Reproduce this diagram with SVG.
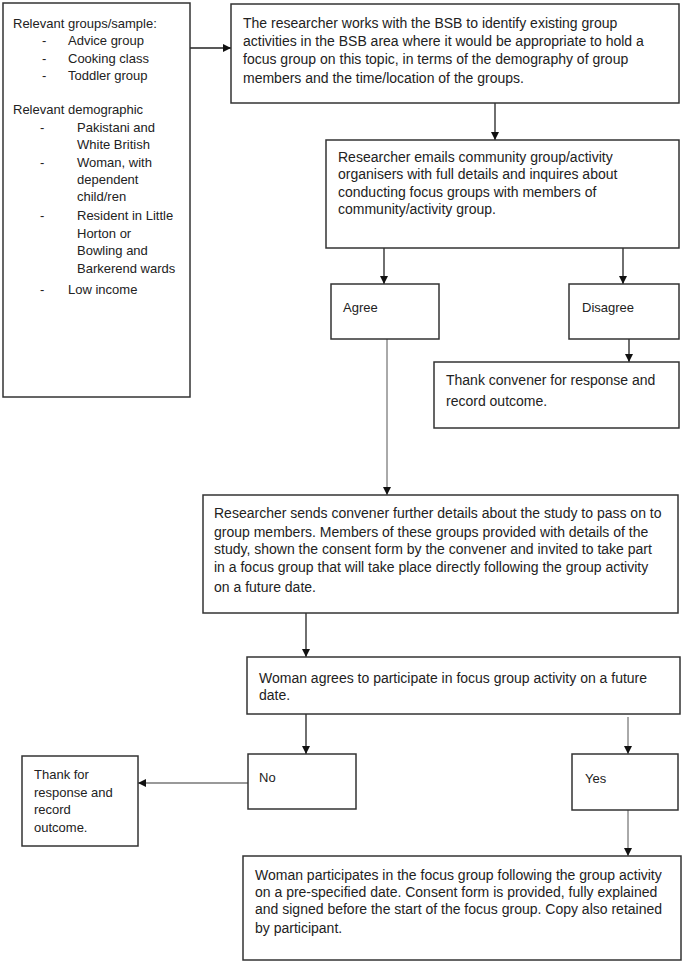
<svg xmlns="http://www.w3.org/2000/svg" width="685" height="969" viewBox="0 0 685 969">
<style>
.box{fill:#fff;stroke:#333;stroke-width:1.5}
text{font-family:"Liberation Sans",Arial,sans-serif;font-size:13px;fill:#222}
.p text{font-size:14px}
.c{stroke:#222;stroke-width:1.3;fill:none;marker-end:url(#ah)}
.thin{stroke:#555;stroke-width:1}
.grey{stroke:#999;stroke-width:2}
</style>
<defs>
<marker id="ah" markerUnits="userSpaceOnUse" markerWidth="8" markerHeight="8" refX="8" refY="4" orient="auto">
<path d="M0,0 L8,4 L0,8 Z" fill="#111"/>
</marker>
</defs>
<rect width="685" height="969" fill="#fff"/>
<g id="connectors">
<line class="c" x1="190" y1="48" x2="231" y2="48"/>
<line class="c" x1="495" y1="103" x2="495" y2="140"/>
<line class="c" x1="384" y1="248" x2="384" y2="284"/>
<line class="c" x1="623" y1="248" x2="623" y2="284"/>
<line class="c" x1="629" y1="339" x2="629" y2="362"/>
<line class="c thin" x1="387" y1="339" x2="387" y2="495"/>
<line class="c" x1="306" y1="613" x2="306" y2="657"/>
<line class="c" x1="306" y1="714" x2="306" y2="754"/>
<line class="c thin" x1="628" y1="717" x2="628" y2="754"/>
<line class="c grey" x1="248" y1="783" x2="138" y2="783"/>
<line class="c thin" x1="628" y1="810" x2="628" y2="856"/>
</g>
<g id="sample">
<rect class="box" x="3" y="3" width="187" height="394"/>
<text x="13" y="28">Relevant groups/sample:</text>
<text x="42" y="45">-</text><text x="68" y="45">Advice group</text>
<text x="42" y="63">-</text><text x="68" y="63">Cooking class</text>
<text x="42" y="80">-</text><text x="68" y="80">Toddler group</text>
<text x="13" y="114">Relevant demographic</text>
<text x="40" y="132">-</text><text x="77" y="132">Pakistani and</text>
<text x="77" y="149">White British</text>
<text x="40" y="167">-</text><text x="77" y="167">Woman, with</text>
<text x="77" y="184">dependent</text>
<text x="77" y="201">child/ren</text>
<text x="40" y="220">-</text><text x="77" y="220">Resident in Little</text>
<text x="77" y="238">Horton or</text>
<text x="77" y="255">Bowling and</text>
<text x="77" y="273">Barkerend wards</text>
<text x="40" y="294">-</text><text x="68" y="294">Low income</text>
</g>
<g id="identify" class="p">
<rect class="box" x="231" y="4" width="448" height="99"/>
<text x="243" y="28">The researcher works with the BSB to identify existing group</text>
<text x="243" y="46">activities in the BSB area where it would be appropriate to hold a</text>
<text x="243" y="64">focus group on this topic, in terms of the demography of group</text>
<text x="243" y="83">members and the time/location of the groups.</text>
</g>
<g id="emails" class="p">
<rect class="box" x="326" y="140" width="353" height="108"/>
<text x="338" y="162">Researcher emails community group/activity</text>
<text x="338" y="179">organisers with full details and inquires about</text>
<text x="338" y="197">conducting focus groups with members of</text>
<text x="338" y="214">community/activity group.</text>
</g>
<g id="agree">
<rect class="box" x="331" y="284" width="108" height="55"/>
<text x="343" y="312">Agree</text>
</g>
<g id="disagree">
<rect class="box" x="569" y="284" width="110" height="55"/>
<text x="582" y="312">Disagree</text>
</g>
<g id="thank-convener" class="p">
<rect class="box" x="434" y="362" width="245" height="66"/>
<text x="446" y="385">Thank convener for response and</text>
<text x="446" y="406">record outcome.</text>
</g>
<g id="sends" class="p">
<rect class="box" x="203" y="495" width="475" height="118"/>
<text x="214" y="518">Researcher sends convener further details about the study to pass on to</text>
<text x="214" y="537">group members. Members of these groups provided with details of the</text>
<text x="214" y="554">study, shown the consent form by the convener and invited to take part</text>
<text x="214" y="572">in a focus group that will take place directly following the group activity</text>
<text x="214" y="592">on a future date.</text>
</g>
<g id="woman-agrees" class="p">
<rect class="box" x="247" y="657" width="433" height="57"/>
<text x="259" y="683">Woman agrees to participate in focus group activity on a future</text>
<text x="259" y="700">date.</text>
</g>
<g id="no">
<rect class="box" x="248" y="754" width="108" height="55"/>
<text x="259" y="782">No</text>
</g>
<g id="yes">
<rect class="box" x="572" y="754" width="106" height="56"/>
<text x="585" y="783">Yes</text>
</g>
<g id="thank-response">
<rect class="box" x="22" y="756" width="116" height="90"/>
<text x="34" y="779">Thank for</text>
<text x="34" y="797">response and</text>
<text x="34" y="814">record</text>
<text x="34" y="832">outcome.</text>
</g>
<g id="participates" class="p">
<rect class="box" x="243" y="856" width="438" height="104"/>
<text x="255" y="880">Woman participates in the focus group following the group activity</text>
<text x="255" y="897">on a pre-specified date. Consent form is provided, fully explained</text>
<text x="255" y="914">and signed before the start of the focus group. Copy also retained</text>
<text x="255" y="933">by participant.</text>
</g>
</svg>
